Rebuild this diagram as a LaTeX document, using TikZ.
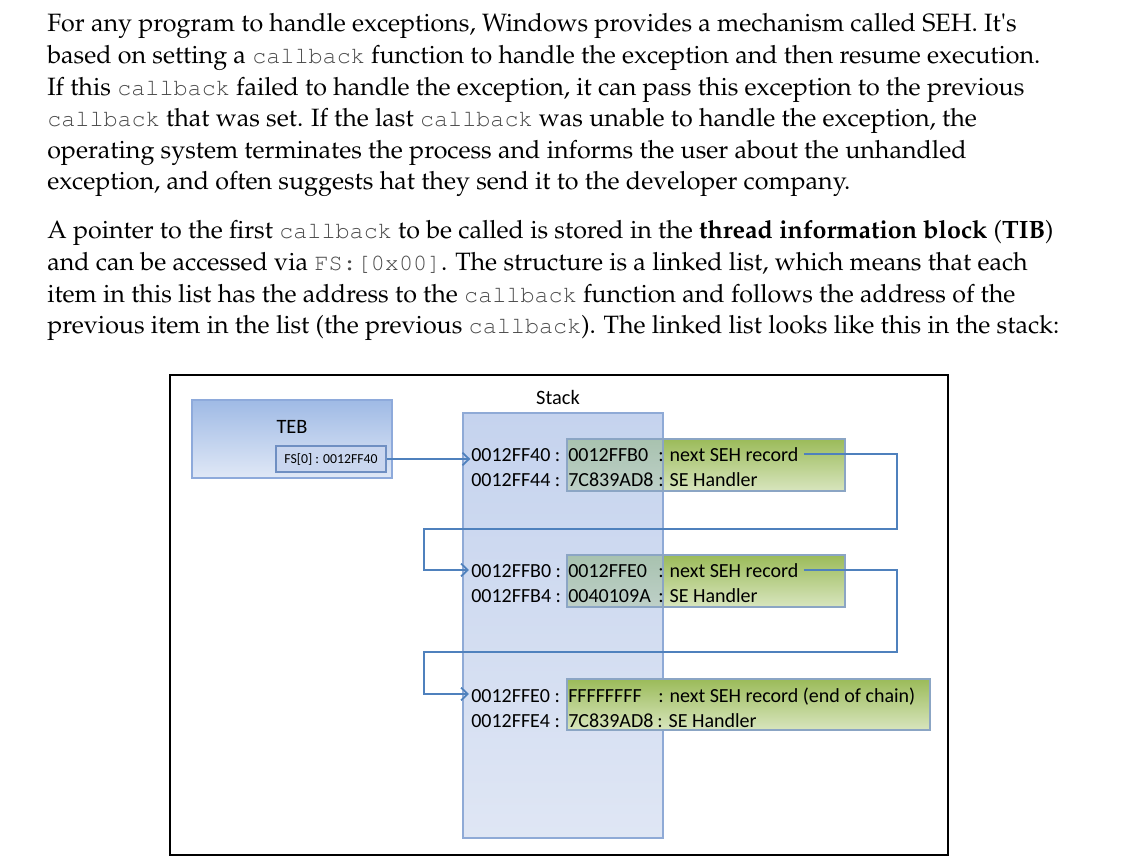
\documentclass[tikz,border=0pt]{standalone}
\usepackage[T1]{fontenc}
\usepackage{fontspec}
\usetikzlibrary{arrows.meta}
\newfontfamily\carfont{Carlito}
\newcommand\cbfont{\fontencoding{T1}\fontfamily{pcr}\fontseries{m}\fontshape{n}\fontsize{17.6}{21}\selectfont}
\newcommand\palfont{\fontencoding{T1}\fontfamily{ppl}\selectfont}
\definecolor{cbgray}{HTML}{4A4A4A}
\definecolor{connblue}{HTML}{4F81BD}
\definecolor{tebtop}{HTML}{9FBAE5}
\definecolor{tebbot}{HTML}{E0E8F6}
\definecolor{tebborder}{HTML}{8EAADB}
\definecolor{stacktop}{HTML}{C5D3EE}
\definecolor{stackbot}{HTML}{DFE6F4}
\definecolor{stackborder}{HTML}{8FAAD6}
\definecolor{fsfill}{HTML}{C9D6EF}
\definecolor{fsborder}{HTML}{6F8FC2}
\definecolor{gtop}{HTML}{9BBB59}
\definecolor{gmid}{HTML}{A6C36A}
\definecolor{gbot}{HTML}{D8E5BE}
\definecolor{gborder}{HTML}{8BA5C4}
\definecolor{otop}{HTML}{A8C2AF}
\definecolor{obot}{HTML}{BED0C8}
\newcommand\cbk{{\cbfont\color{cbgray}callback}}
\begin{document}
\begin{tikzpicture}[x=0.75pt,y=-0.75pt,
  para/.style={anchor=base west,inner sep=0pt,font=\palfont\fontsize{18.8}{22}\selectfont},
  lbl/.style={inner sep=0pt,font=\carfont\fontsize{15.3}{18}\selectfont},
  row/.style={anchor=base west,inner sep=0pt,text height=12pt,text depth=0pt,font=\carfont\fontsize{15}{18}\selectfont},
  conn/.style={draw=connblue,line width=1.9pt},
  tip/.style={-{Straight Barb[length=5pt,width=9.5pt,line width=1.3pt]}},
  tebshape/.style={draw=tebborder,line width=0.8pt,top color=tebtop,bottom color=tebbot},
  stackshape/.style={draw=stackborder,line width=0.8pt,top color=stacktop,bottom color=stackbot},
  gbox/.style={draw=gborder,line width=0.8pt,top color=gtop,middle color=gmid,bottom color=gbot},
  obox/.style={draw=gborder,line width=0.8pt,top color=otop,bottom color=obot},
  fsbox/.style={draw=fsborder,line width=0.8pt,fill=fsfill,inner sep=0pt,minimum width=82.5pt,minimum height=19.5pt,font=\carfont\fontsize{10.3}{12}\selectfont}
]
\useasboundingbox (0,0) rectangle (1143,862);
\fill[white] (0,0) rectangle (1143,862);

% paragraph 1
\node[para] (l1) at (47,32) {For any program to handle exceptions, Windows provides a mechanism called SEH. It\textquotesingle s};
\node[para] (l2) at (47,63.6) {based on setting a \cbk{} function to handle the exception and then resume execution.};
\node[para] (l3) at (47,95.2) {If this \cbk{} failed to handle the exception, it can pass this exception to the previous};
\node[para] (l4) at (47,126.8) {\cbk{} that was set. If the last \cbk{} was unable to handle the exception, the};
\node[para] (l5) at (47,158.4) {operating system terminates the process and informs the user about the unhandled};
\node[para] (l6) at (47,190) {exception, and often suggests hat they send it to the developer company.};
% paragraph 2
\node[para] (l7) at (47,239) {A pointer to the first \cbk{} to be called is stored in the \textbf{thread information block} (\textbf{TIB})};
\node[para] (l8) at (47,271) {and can be accessed via {\cbfont\color{cbgray}FS:[0x00]}. The structure is a linked list, which means that each};
\node[para] (l9) at (47,302.6) {item in this list has the address to the \cbk{} function and follows the address of the};
\node[para] (l10) at (47,334) {previous item in the list (the previous \cbk{}). The linked list looks like this in the stack:};

% frame
\draw[line width=2pt] (170,375) rectangle (948,855);

% TEB
\path[tebshape] (192,400) rectangle (392,478);
\node[lbl] (teb) at (292,427) {TEB};
\node[fsbox] (fs) at (331,459) {FS[0] : 0012FF40};

% stack
\node[lbl] (stacklbl) at (558,397) {Stack};
\path[stackshape] (463,413) rectangle (663,838);

% record boxes
\path[gbox] (567,439) rectangle (845,491);
\path[obox] (567,439) rectangle (663,491);
\path[gbox] (567,555) rectangle (845,607);
\path[obox] (567,555) rectangle (663,607);
\path[gbox] (567,679) rectangle (930,730);

% record 1
\node[row] (r1a) at (471,462) {0012FF40 :};
\node[row] (r1b) at (568,462) {0012FFB0};
\node[row] (r1n) at (658,462) {: next SEH record};
\node[row] (r1c) at (471,487) {0012FF44 :};
\node[row] (r1d) at (568,487) {7C839AD8};
\node[row] (r1h) at (658,487) {: SE Handler};
% record 2
\node[row] (r2a) at (471,578) {0012FFB0 :};
\node[row] (r2b) at (568,578) {0012FFE0};
\node[row] (r2n) at (658,578) {: next SEH record};
\node[row] (r2c) at (471,603) {0012FFB4 :};
\node[row] (r2d) at (568,603) {0040109A};
\node[row] (r2h) at (658,603) {: SE Handler};
% record 3
\node[row] (r3a) at (471,702) {0012FFE0 :};
\node[row] (r3b) at (568,702) {FFFFFFFF};
\node[row] (r3n) at (658,702) {: next SEH record (end of chain)};
\node[row] (r3c) at (471,727) {0012FFE4 :};
\node[row] (r3d) at (568,727) {7C839AD8};
\node[row] (r3h) at (657,727) {: SE Handler};

% connectors
\coordinate (k1) at (897,529);
\coordinate (k2) at (424,529);
\coordinate (k3) at (897,652);
\coordinate (k4) at (424,652);
\draw[conn,tip,shorten >=0.5pt] (fs.east) -- (fs.east -| r1a.west);
\draw[conn,tip,shorten <=4pt,shorten >=1.5pt] (r1n.east) -- (r1n.east -| k1) |- (k2) |- (r2a.west);
\draw[conn,tip,shorten <=4pt,shorten >=1.5pt] (r2n.east) -- (r2n.east -| k3) |- (k4) |- (r3a.west);
\end{tikzpicture}
\end{document}
